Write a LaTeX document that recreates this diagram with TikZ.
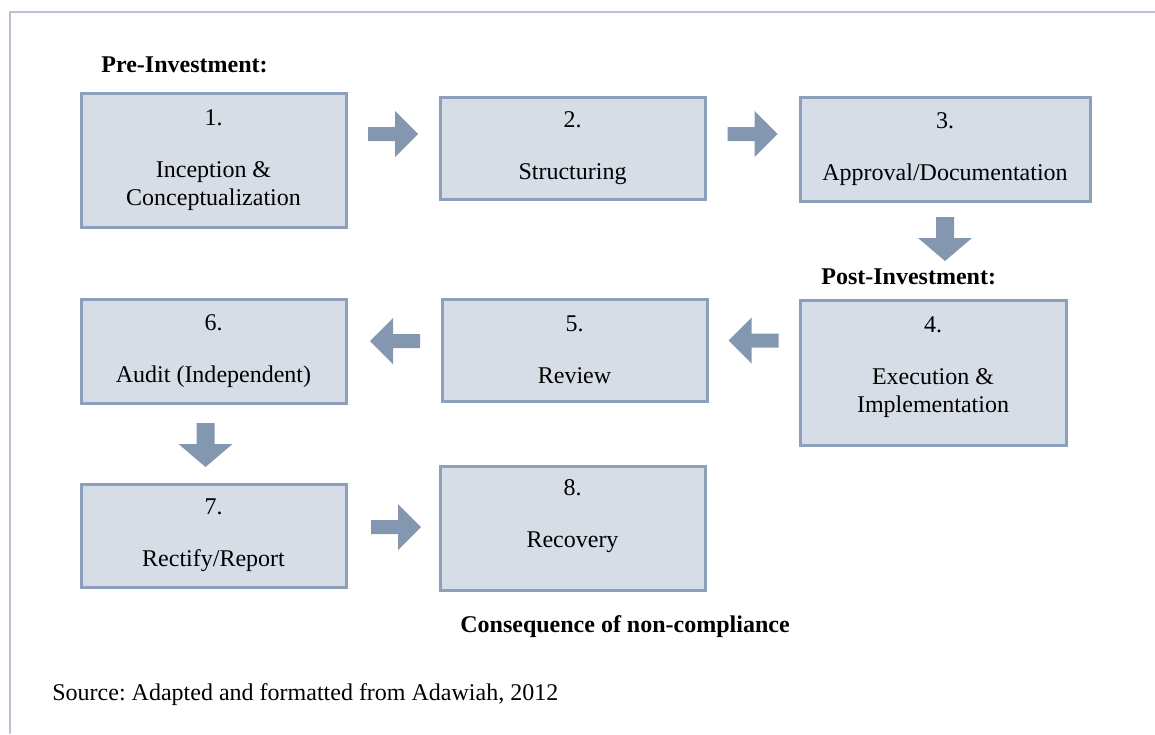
\documentclass[tikz,border=0pt]{standalone}
\usepackage{fontspec}
\setmainfont{Liberation Serif}
\usetikzlibrary{calc}
\frenchspacing
\definecolor{boxfill}{HTML}{D6DDE7}
\definecolor{boxline}{HTML}{8C9FBB}
\definecolor{arrowc}{HTML}{8497B0}
\definecolor{framec}{HTML}{B7C3D3}
\newcommand\arrR[1]{\fill[arrowc] (#1) ++(-25,-7) -- ++(27,0) -- ++(0,-16) -- ++(23,23) -- ++(-23,23) -- ++(0,-16) -- ++(-27,0) -- cycle;}
\newcommand\arrL[1]{\fill[arrowc] (#1) ++(25,-7) -- ++(-27,0) -- ++(0,-16) -- ++(-23,23) -- ++(23,23) -- ++(0,-16) -- ++(27,0) -- cycle;}
\newcommand\arrD[1]{\fill[arrowc] (#1) ++(-9,-22) -- ++(0,21) -- ++(-18,0) -- ++(27,23) -- ++(27,-23) -- ++(-18,0) -- ++(0,-21) -- cycle;}
\begin{document}
\begin{tikzpicture}[x=0.5pt,y=-0.5pt,
  every node/.style={font=\fontsize{12}{14}\selectfont},
  stepbox/.style={draw=boxline, line width=1.5pt, fill=boxfill, align=center, inner sep=0pt},
  heading/.style={font=\fontsize{12}{14}\selectfont\bfseries, inner sep=0pt}]
\useasboundingbox (0,0) rectangle (1155,734);
% frame
\draw[framec, line width=1.1pt] (10,734) -- (10,12) -- (1155,12);
% boxes
\node[stepbox, minimum width=132.5pt, minimum height=67pt] (b1) at (213.5,160) {1.\\[12pt]Inception \&\\Conceptualization};
\node[stepbox, minimum width=132.5pt, minimum height=51pt] (b2) at (572.5,148) {2.\\[12pt]Structuring};
\node[stepbox, minimum width=145pt, minimum height=52pt] (b3) at (945,149) {3.\\[12pt]Approval/Documentation};
\node[stepbox, minimum width=133pt, minimum height=72.5pt] (b4) at (933,372.5) {4.\\[12pt]Execution \&\\Implementation\\[-6pt]\mbox{}};
\node[stepbox, minimum width=132.5pt, minimum height=51pt] (b5) at (574.5,350) {5.\\[12pt]Review};
\node[stepbox, minimum width=132.5pt, minimum height=52pt] (b6) at (213.5,351) {6.\\[12pt]Audit (Independent)};
\node[stepbox, minimum width=132.5pt, minimum height=51.5pt] (b7) at (213.5,535.5) {7.\\[12pt]Rectify/Report};
\node[stepbox, minimum width=132.5pt, minimum height=62pt] (b8) at (572.5,528) {8.\\[12pt]Recovery\\\mbox{}};
% headings
\node[heading, anchor=base west] (pre) at (101,72) {Pre-Investment:};
\node[heading, anchor=base west] (post) at (821,284) {Post-Investment:};
\node[heading, anchor=base] (cons) at (625,632) {Consequence of non-compliance};
\node[inner sep=0pt, anchor=base west] (src) at (52,700) {Source: Adapted and formatted from Adawiah, 2012};
% block arrows
\coordinate (a12) at ($(b1.east)!0.5!(b2.west)$);
\coordinate (a23) at ($(b2.east)!0.5!(b3.west)$);
\coordinate (a34) at (945,239);
\coordinate (a45) at (753.5,340.5);
\coordinate (a56) at (395,341);
\coordinate (a67) at (205.5,445);
\coordinate (a78) at (396,527);
\arrR{a12 |- 0,134}
\arrR{a23 |- 0,134}
\arrD{a34}
\arrL{a45}
\arrL{a56}
\arrD{a67}
\arrR{a78}
\end{tikzpicture}
\end{document}
